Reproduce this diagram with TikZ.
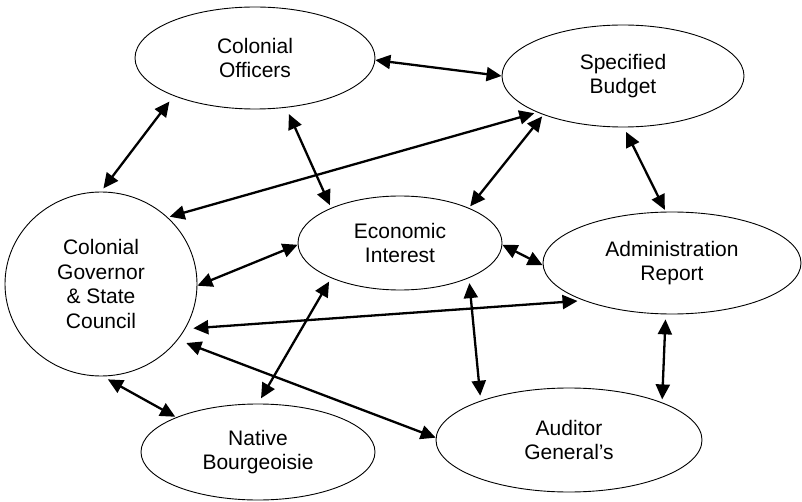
\documentclass[tikz,border=0pt]{standalone}
\usepackage{fontspec}
\setmainfont{Liberation Sans}
\usetikzlibrary{arrows.meta,shapes.geometric}
\begin{document}
\begin{tikzpicture}[x=1pt,y=-1pt,
  ell/.style={draw, ellipse, line width=0.9pt, inner sep=0pt, align=center,
    font=\fontsize{21}{24.5}\selectfont},
  arr/.style={line width=2.3pt,
    {Triangle[length=15pt,width=14pt]}-{Triangle[length=15pt,width=14pt]}}]
\useasboundingbox (0,0) rectangle (802,502);
\node[ell, minimum width=240pt, minimum height=102pt] (off) at (255,58) {Colonial\\Officers};
\node[ell, minimum width=242pt, minimum height=102pt] (bud) at (623,76) {Specified\\Budget};
\node[ell, minimum width=192pt, minimum height=184pt] (gov) at (101,284) {Colonial\\Governor\\\&~State\\Council};
\node[ell, minimum width=204pt, minimum height=94pt] (eco) at (400,243) {Economic\\Interest};
\node[ell, minimum width=258pt, minimum height=102pt] (adm) at (672,263) {Administration\\Report};
\node[ell, minimum width=266pt, minimum height=104pt] (aud) at (569,440) {Auditor\\General’s};
\node[ell, minimum width=234pt, minimum height=96pt] (nat) at (258,452) {Native\\Bourgeoisie};

\draw[arr, shorten <=7pt, shorten >=4pt] (off.-155) -- (gov.90);
\draw[arr, shorten <=7pt, shorten >=3pt] (off.-58) -- (eco.153);
\draw[arr] (off.-1) -- (bud.180);
\draw[arr, shorten <=3pt, shorten >=2pt] (bud.203) -- (gov.45);
\draw[arr, shorten <=2pt, shorten >=2pt] (bud.206) -- (eco.27);
\draw[arr, shorten <=5pt, shorten >=2pt] (bud.-89) -- (adm.97);
\draw[arr] (eco.-1) -- (adm.181);
\draw[arr] (eco.181) -- (gov.-1);
\draw[arr, shorten <=4pt, shorten >=6pt] (eco.207) -- (nat.90);
\draw[arr, shorten <=5pt, shorten >=5pt] (eco.-27) -- (aud.156);
\draw[arr, shorten <=8pt, shorten >=6pt] (gov.-28) -- (adm.203);
\draw[arr, shorten <=9pt] (gov.-36) -- (aud.179);
\draw[arr, shorten <=6pt, shorten >=1pt] (gov.-89) -- (nat.157);
\draw[arr, shorten <=5pt, shorten >=3pt] (adm.-97) -- (aud.22);
\end{tikzpicture}
\end{document}
